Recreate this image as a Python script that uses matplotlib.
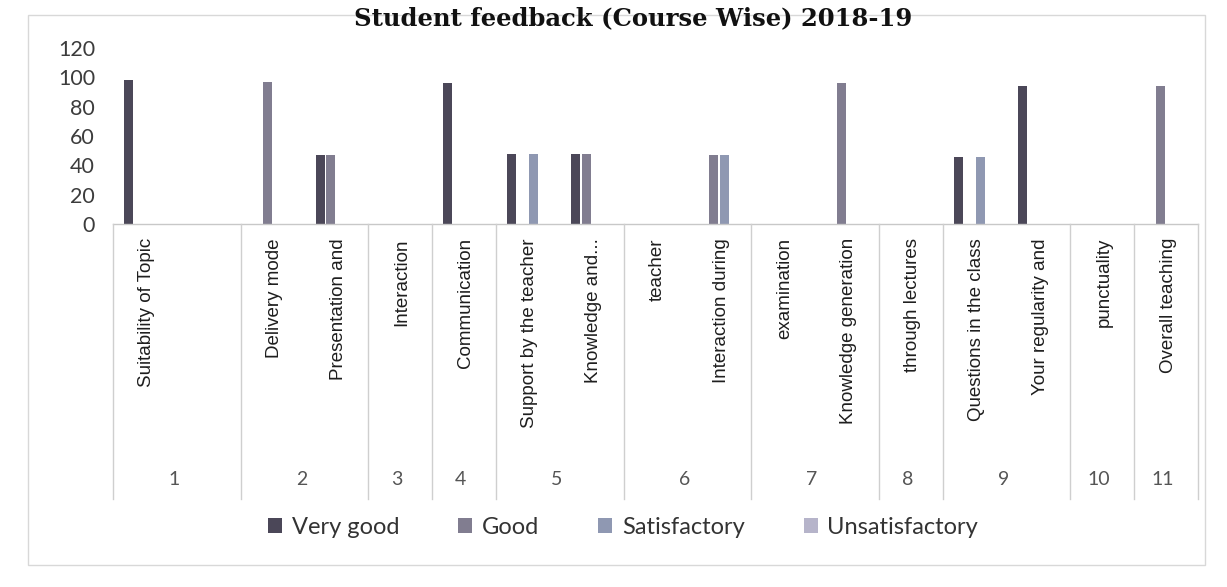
import numpy as np
import matplotlib.pyplot as plt
import matplotlib.transforms as mtransforms
from matplotlib.patches import Rectangle

# category slots (inner level) and their outer group numbers
labels = ['Suitability of Topic', '', 'Delivery mode', 'Presentation and',
          'Interaction', 'Communication', 'Support by the teacher',
          'Knowledge and...', 'teacher', 'Interaction during', 'examination',
          'Knowledge generation', 'through lectures', 'Questions in the class',
          'Your regularity and', 'punctuality', 'Overall teaching']
groups = ['1', '2', '3', '4', '5', '6', '7', '8', '9', '10', '11']
group_sizes = [2, 2, 1, 1, 2, 2, 2, 1, 2, 1, 1]

series = ['Very good', 'Good', 'Satisfactory', 'Unsatisfactory']
very_good = [98, 0, 0, 47, 0, 96, 48, 48, 0, 0, 0, 0, 0, 46, 94, 0, 0]
good = [0, 0, 97, 47, 0, 0, 0, 48, 0, 47, 0, 96, 0, 0, 0, 0, 94]
satisfactory = [0, 0, 0, 0, 0, 0, 48, 0, 0, 47, 0, 0, 0, 46, 0, 0, 0]
unsatisfactory = [0] * 17
values = [very_good, good, satisfactory, unsatisfactory]
colors = ['#4b4758', '#817d90', '#8f98b2', '#b6b4ca']

yticks = [0, 20, 40, 60, 80, 100, 120]

W, H = 1227, 587
fig = plt.figure(figsize=(W / 100, H / 100), dpi=100)
fig.patch.set_facecolor('white')

# chart area border
fig.patches.append(Rectangle((28 / W, 1 - 565 / H), 1177 / W, 550 / H,
                             transform=fig.transFigure, fill=False,
                             edgecolor='#d8d8d8', linewidth=1))

ax = fig.add_axes([113 / W, 1 - 224 / H, 1085 / W, 176 / H])
ax.set_xlim(0, len(labels))
ax.set_ylim(0, 120)
for s in ax.spines.values():
    s.set_visible(False)
ax.set_xticks([])
ax.set_yticks(yticks)
ax.tick_params(axis='y', length=0, pad=13, labelsize=15.5, labelcolor='#3c3c3c')
for t in ax.get_yticklabels():
    t.set_fontfamily(['Lato', 'DejaVu Sans'])

x = np.arange(len(labels)) + 0.5
bw = 0.14
step = 0.17
for i, (name, vals, c) in enumerate(zip(series, values, colors)):
    ax.bar(x + (i - 1.5) * step, vals, width=bw, color=c, label=name)

trans = mtransforms.blended_transform_factory(ax.transData, ax.transAxes)

# axis line below the bars
ax.plot([0, len(labels)], [0, 0], transform=trans, color='#c8c8c8',
        linewidth=1, clip_on=False)

# inner category labels
for xi, lab in zip(x, labels):
    if lab:
        ax.text(xi + 0.03, -0.08, lab, transform=trans, rotation=90,
                ha='center', va='top', fontsize=13.5, color='#1e1e1e',
                family=['Liberation Sans', 'DejaVu Sans'])

# outer group numbers and dividers
edges = np.concatenate([[0], np.cumsum(group_sizes)])
for j, g in enumerate(groups):
    mid = (edges[j] + edges[j + 1]) / 2
    ax.text(mid - 0.05, -1.45, g, transform=trans, ha='center', va='center',
            fontsize=14, color='#555555', family=['Lato', 'DejaVu Sans'])
for e in edges:
    ax.plot([e, e], [0, -1.56], transform=trans, color='#cfcfcf',
            linewidth=1, clip_on=False)

fig.legend(loc='center', bbox_to_anchor=(623 / W, 1 - 527 / H), ncol=4,
           frameon=False, handlelength=0.6, handleheight=0.6,
           handletextpad=0.4, columnspacing=2.5,
           prop={'family': ['Lato', 'DejaVu Sans'], 'size': 17},
           labelcolor='#333333')

fig.text(633 / W, 1 - 18 / H, 'Student feedback (Course Wise) 2018-19',
         ha='center', va='center', fontsize=17.5, fontweight='bold',
         family=['DejaVu Serif'], color='#111111')

fig.savefig('out.png', dpi=100, facecolor='white')
